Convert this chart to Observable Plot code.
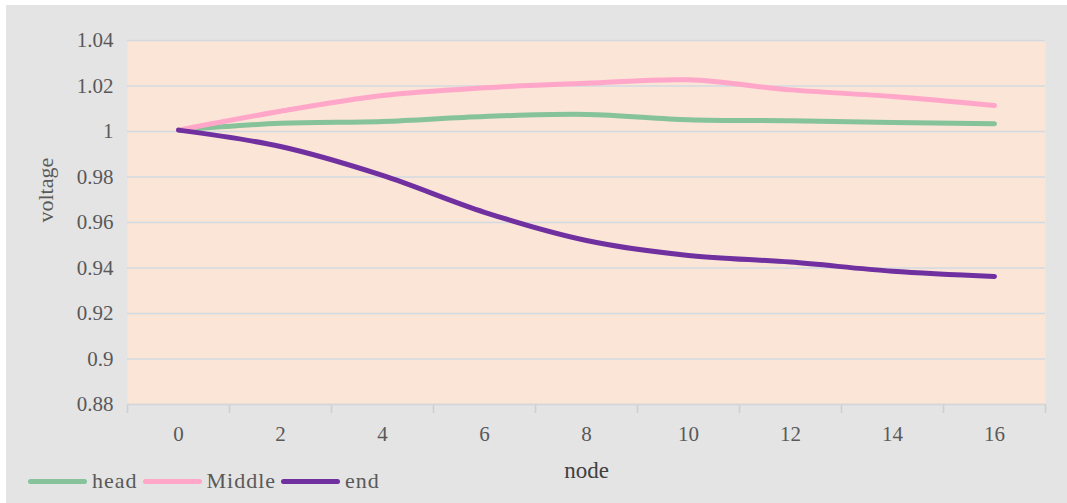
<!DOCTYPE html>
<html>
<head>
<meta charset="utf-8">
<script src="https://cdn.jsdelivr.net/npm/d3@7"></script>
<script src="https://cdn.jsdelivr.net/npm/@observablehq/plot@0.6"></script>
<style>
  html, body { margin: 0; padding: 0; background: #fff; }
  #wrap { position: relative; width: 1067px; height: 503px; overflow: hidden; background: #fff; }
  #bg { position: absolute; left: 6px; top: 5px; right: 0; bottom: 0; background: #e4e4e4; }
  #chart { position: absolute; left: 0; top: 0; }
  #legend { position: absolute; left: 28px; top: 468px; display: flex; align-items: center;
            font-family: "Liberation Serif", "Tinos", "DejaVu Serif", "Noto Serif", serif; font-size: 22px; color: #595959; letter-spacing: 1px; }
  #legend .sw { display: inline-block; width: 59px; height: 5px; border-radius: 3px; margin-right: 5px; }
  #legend .it { display: flex; align-items: center; margin-right: 5px; }
  #chart svg text { font-family: "Liberation Serif", "Tinos", "DejaVu Serif", "Noto Serif", serif; }
</style>
</head>
<body>
<div id="wrap">
  <div id="bg"></div>
  <div id="chart"></div>
  <div id="legend"></div>
</div>
<script>
// ---- data ----
const nodes = [0, 2, 4, 6, 8, 10, 12, 14, 16];
const head = [1.0006, 1.0036, 1.0044, 1.0066, 1.0075, 1.0052, 1.0047, 1.0040, 1.0034];
const middle = [1.0006, 1.0089, 1.0158, 1.0192, 1.0212, 1.0227, 1.0183, 1.0154, 1.0114];
const end = [1.0006, 0.9934, 0.9807, 0.9645, 0.9521, 0.9455, 0.9426, 0.9386, 0.9363];
const seriesNames = ["head", "Middle", "end"];
const seriesColors = ["#86c29a", "#ffa6c9", "#7030a0"];
const yTicks = [0.88, 0.90, 0.92, 0.94, 0.96, 0.98, 1.00, 1.02, 1.04];
const yTickLabels = ["0.88", "0.9", "0.92", "0.94", "0.96", "0.98", "1", "1.02", "1.04"];
const xBounds = [-1, 1, 3, 5, 7, 9, 11, 13, 15, 17];

const seriesValues = [head, middle, end];
const rows = [];
seriesNames.forEach((name, i) => {
  nodes.forEach((n, j) => rows.push({series: name, node: n, voltage: seriesValues[i][j]}));
});

const font = '"Liberation Serif", "Tinos", "DejaVu Serif", "Noto Serif", serif';

const plot = Plot.plot({
  width: 1067,
  height: 503,
  marginLeft: 127,
  marginRight: 22,
  marginTop: 40,
  marginBottom: 99,
  style: {background: "transparent", fontFamily: font, fontSize: "20px", overflow: "visible"},
  x: {type: "linear", domain: [-1, 17]},
  y: {domain: [0.88, 1.04]},
  color: {domain: seriesNames, range: seriesColors},
  marks: [
    Plot.frame({fill: "#fae5d7", stroke: null}),
    Plot.gridY(yTicks, {stroke: "#d3d9e0", strokeOpacity: 1, strokeWidth: 1.5}),
    Plot.axisY(yTicks, {tickSize: 0, tickPadding: 14, tickFormat: (d) => yTickLabels[yTicks.indexOf(d)], fill: "#595959", label: null, fontSize: 21}),
    Plot.axisX(xBounds, {anchor: "bottom", tickSize: 9, tickFormat: () => "", stroke: "#cfcfcf", strokeWidth: 1.5, label: null}),
    Plot.axisX(nodes, {anchor: "bottom", tickSize: 0, tickPadding: 22, fill: "#595959", label: null, fontSize: 21}),
    Plot.ruleY([0.88], {stroke: "#d6d6d6", strokeWidth: 1.5}),
    Plot.line(rows, {x: "node", y: "voltage", z: "series", stroke: "series", strokeWidth: 5, curve: "catmull-rom", strokeLinecap: "round"}),
    Plot.text(["voltage"], {frameAnchor: "left", dx: -82, rotate: -90, fill: "#595959", fontSize: 22, text: d => d, letterSpacing: 1}),
    Plot.text(["node"], {frameAnchor: "bottom", dy: 73, fill: "#404040", fontSize: 23, text: d => d, letterSpacing: 2})
  ]
});
document.getElementById("chart").appendChild(plot);

// legend
const lg = document.getElementById("legend");
seriesNames.forEach((name, i) => {
  const it = document.createElement("span");
  it.className = "it";
  const sw = document.createElement("span");
  sw.className = "sw";
  sw.style.background = seriesColors[i];
  const tx = document.createElement("span");
  tx.textContent = name;
  it.appendChild(sw);
  it.appendChild(tx);
  lg.appendChild(it);
});
</script>
</body>
</html>
